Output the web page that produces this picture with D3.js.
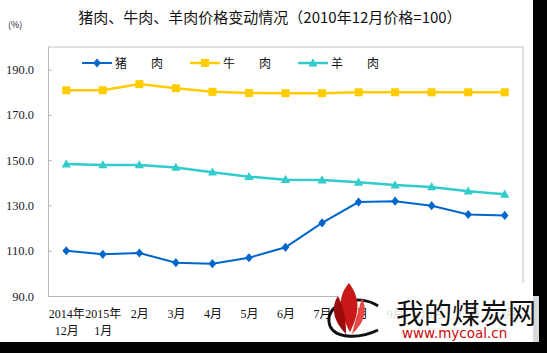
<!DOCTYPE html>
<html>
<head>
<meta charset="utf-8">
<script src="https://cdn.jsdelivr.net/npm/d3@7"></script>
<style>
  body { margin: 0; background: #fff; }
  svg { display: block; }
</style>
</head>
<body>
<div id="chart"></div>
<script>
// 月份（前两个带年份，分两行显示）
const months = ["2014年12月", "2015年1月", "2月", "3月", "4月", "5月", "6月", "7月", "8月", "9月", "10月", "11月", "12月"];
const pork   = [110.0, 108.4, 109.0, 104.7, 104.3, 106.9, 111.5, 122.3, 131.5, 131.9, 129.9, 126.0, 125.6];
const beef   = [180.9, 180.9, 183.6, 181.8, 180.2, 179.7, 179.6, 179.6, 180.0, 180.0, 180.0, 180.0, 180.0];
const mutton = [148.3, 147.9, 147.9, 146.8, 144.7, 142.7, 141.4, 141.2, 140.2, 139.0, 138.2, 136.3, 134.9];
const yTicks = [90, 110, 130, 150, 170, 190];
const seriesNames = ["猪　　肉", "牛　　肉", "羊　　肉"];

const W = 547, H = 353;
const plot = { left: 48, right: 523, top: 47, bottom: 296 };

const svg = d3.select("#chart").append("svg")
  .attr("width", W).attr("height", H);

svg.append("rect").attr("width", W).attr("height", H).attr("fill", "#fff");

const x = d3.scalePoint()
  .domain(months)
  .range([plot.left, plot.right])
  .padding(0.5);

const y = d3.scaleLinear()
  .domain([90, 200])
  .range([plot.bottom, plot.top]);

// 标题
svg.append("text")
  .attr("x", 270).attr("y", 23)
  .attr("text-anchor", "middle")
  .style("font-family", "'Noto Sans CJK SC', sans-serif")
  .style("font-size", "15px")
  .attr("fill", "#111")
  .text("猪肉、牛肉、羊肉价格变动情况（2010年12月价格=100）");

svg.append("text")
  .attr("x", 8).attr("y", 28)
  .style("font-family", "'Noto Sans CJK SC', sans-serif")
  .style("font-size", "9px")
  .attr("fill", "#222")
  .text("(%)");

// 绘图区边框（上、右）
svg.append("path")
  .attr("d", `M${plot.left},${plot.top}H${plot.right}V${plot.bottom}`)
  .attr("fill", "none")
  .attr("stroke", "#c4c4c4")
  .attr("stroke-width", 1);

// 纵轴
const yAxis = svg.append("g")
  .attr("transform", `translate(${plot.left},0)`)
  .call(d3.axisLeft(y).tickValues(yTicks).tickFormat(d3.format(".1f")).tickSize(-4).tickPadding(14));
yAxis.select(".domain").attr("stroke", "#b8b8b8").attr("d", `M0.5,${plot.bottom}V${plot.top}`);
yAxis.selectAll(".tick line").attr("stroke", "#b8b8b8");
yAxis.selectAll(".tick text")
  .style("font-family", "'Liberation Serif', serif")
  .style("font-size", "12.5px")
  .attr("fill", "#1a1a2e");

// 横轴
const xAxis = svg.append("g")
  .attr("transform", `translate(0,${plot.bottom})`)
  .call(d3.axisBottom(x).tickSize(0).tickFormat(""));
xAxis.select(".domain").attr("stroke", "#b8b8b8")
  .attr("d", `M${plot.left},0.5H${plot.right}`);

const xLabels = xAxis.selectAll(".tick text")
  .text(null)
  .attr("y", 0).attr("dy", null)
  .style("font-family", "'Liberation Serif', 'Noto Sans CJK SC', serif")
  .style("font-size", "12px")
  .attr("fill", "#111");
xLabels.each(function(d) {
  const m = d.match(/^(\d{4}年)(.*)$/);
  const t = d3.select(this);
  if (m) {
    t.append("tspan").attr("x", 0).attr("y", 22).text(m[1]);
    t.append("tspan").attr("x", 0).attr("y", 39).text(m[2]);
  } else {
    t.append("tspan").attr("x", 0).attr("y", 22).text(d);
  }
});

// 标记形状
function marker(type) {
  if (type === "diamond") return "M0,-4.6L3.8,0L0,4.6L-3.8,0Z";
  if (type === "square") return "M-4,-4H4V4H-4Z";
  return "M0,-4.8L4.6,3.4H-4.6Z";
}

const series = [
  { name: seriesNames[0], values: pork,   color: "#0066CC", width: 2,   shape: "diamond" },
  { name: seriesNames[1], values: beef,   color: "#FFCC00", width: 2.5, shape: "square" },
  { name: seriesNames[2], values: mutton, color: "#33CCCC", width: 2.5, shape: "triangle" }
];

const line = d3.line()
  .x((d, i) => x(months[i]))
  .y(d => y(d));

series.forEach(s => {
  svg.append("path")
    .datum(s.values)
    .attr("fill", "none")
    .attr("stroke", s.color)
    .attr("stroke-width", s.width)
    .attr("d", line);
  svg.append("g").selectAll("path")
    .data(s.values)
    .enter().append("path")
    .attr("transform", (d, i) => `translate(${x(months[i])},${y(d)})`)
    .attr("d", marker(s.shape))
    .attr("fill", s.color);
});

// 图例
const legendX = [82, 190, 298];
const legend = svg.append("g");
series.forEach((s, i) => {
  const g = legend.append("g").attr("transform", `translate(${legendX[i]},63)`);
  g.append("line").attr("x1", 0).attr("x2", 30).attr("stroke", s.color).attr("stroke-width", s.width);
  g.append("path").attr("transform", "translate(15,0)").attr("d", marker(s.shape)).attr("fill", s.color);
  g.append("text")
    .attr("x", 33).attr("y", 4.5)
    .style("font-family", "'Noto Sans CJK SC', sans-serif")
    .style("font-size", "12px")
    .attr("fill", "#111")
    .text(s.name);
});

// 右侧与底部黑边
svg.append("rect").attr("x", 533).attr("y", 0).attr("width", W - 533).attr("height", H).attr("fill", "#000");
svg.append("rect").attr("x", 0).attr("y", 342).attr("width", W).attr("height", H - 342).attr("fill", "#000");

// 水印（半透明白底，遮住部分横轴标签）
const wm = svg.append("g");
wm.append("rect").attr("x", 338).attr("y", 283).attr("width", 195).attr("height", 16).attr("fill", "#fff");
wm.append("rect").attr("x", 384).attr("y", 296).attr("width", 155).attr("height", 46)
  .attr("fill", "#fff").attr("fill-opacity", 0.85);
wm.append("path")
  .attr("d", "M378,306 C358,292 322,304 330,326 C336,340 362,338 378,330")
  .attr("fill", "none").attr("stroke", "#111").attr("stroke-width", 3);
wm.append("path").attr("d", "M349,283 C336,298 340,314 350,332 C358,316 362,300 349,283Z").attr("fill", "#c81818");
wm.append("path").attr("d", "M338,296 C330,308 334,322 346,334 C346,320 344,308 338,296Z").attr("fill", "#9a0c0c");
wm.append("path").attr("d", "M362,298 C358,312 355,322 352,334 C364,324 368,310 362,298Z").attr("fill", "#e64848");
wm.append("text")
  .attr("x", 396).attr("y", 324)
  .style("font-family", "'Noto Sans CJK SC', sans-serif")
  .style("font-size", "28px")
  .attr("fill", "#111")
  .text("我的煤炭网");
wm.append("text")
  .attr("x", 402).attr("y", 338)
  .style("font-family", "'DejaVu Sans', sans-serif")
  .style("font-size", "13.5px")
  .attr("fill", "#cc0a0a")
  .text("www.mycoal.cn");
</script>
</body>
</html>
